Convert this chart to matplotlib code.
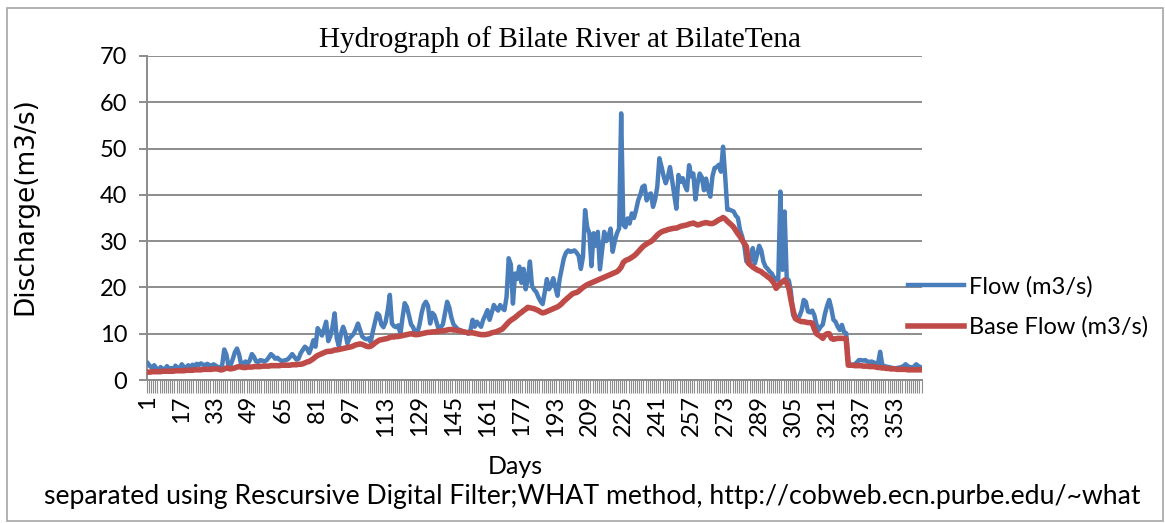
import matplotlib
matplotlib.use("Agg")
import matplotlib.pyplot as plt
from matplotlib.patches import Rectangle

# daily values (m3/s)
days = list(range(1, 366))

flow = [
    3.6, 3.0, 2.6, 3.2, 2.5, 2.2, 2.8, 2.4, 2.3, 3.0,
    2.4, 2.6, 2.2, 3.1, 2.5, 2.6, 3.4, 2.8, 2.6, 3.2,
    2.7, 3.3, 3.0, 3.5, 3.2, 3.6, 3.3, 3.2, 3.5, 3.2,
    3.0, 3.4, 3.1, 2.8, 2.6, 3.2, 6.6, 5.5, 3.0, 3.2,
    4.5, 6.0, 6.8, 5.5, 3.2, 3.6, 4.0, 3.5, 4.2, 5.6,
    5.0, 4.0, 3.9, 4.3, 4.2, 4.0, 4.3, 4.9, 5.6, 5.2,
    4.6, 4.8, 4.4, 4.1, 4.2, 4.3, 4.5, 5.0, 5.6, 5.0,
    4.4, 4.6, 5.8, 6.5, 7.2, 6.8, 5.8, 7.0, 8.6, 7.2,
    11.2, 10.5, 9.6, 11.0, 12.6, 8.4, 9.5, 11.5, 14.4, 9.0,
    7.3, 10.0, 11.5, 10.2, 7.9, 9.0, 9.5, 10.0, 11.0, 12.2,
    10.8, 9.4, 9.0, 8.8, 9.0, 8.2, 10.5, 12.5, 14.4, 14.0,
    12.0, 11.4, 12.5, 15.0, 18.4, 12.2, 11.6, 11.4, 11.8, 10.0,
    13.5, 16.6, 15.8, 14.0, 12.0, 11.4, 10.0, 10.2, 12.0, 14.5,
    16.2, 16.9, 16.0, 12.2, 14.5, 14.0, 12.5, 11.0, 11.4, 12.0,
    14.5, 16.9, 15.7, 13.5, 12.0, 11.5, 11.0, 10.8, 10.6, 10.4,
    10.2, 10.0, 10.8, 13.0, 11.5, 12.6, 12.0, 11.5, 13.0, 14.0,
    15.1, 13.0, 14.5, 16.2, 15.5, 15.0, 16.2, 15.5, 15.1, 18.0,
    26.3, 25.0, 16.5, 23.0, 21.8, 24.5, 21.0, 24.0, 19.6, 21.8,
    25.6, 20.3, 19.5, 19.0, 17.9, 17.0, 16.4, 19.0, 21.8, 19.6,
    20.5, 22.0, 20.0, 18.2, 21.8, 24.0, 26.3, 27.5, 28.0, 27.7,
    27.8, 28.0, 27.5, 26.8, 24.0, 26.6, 36.7, 33.0, 31.7, 24.6,
    31.7, 29.0, 32.0, 23.9, 28.0, 32.0, 30.0, 31.0, 32.7, 27.7,
    30.0, 31.7, 32.7, 57.6, 33.5, 33.0, 34.9, 33.8, 36.0, 35.0,
    36.7, 38.8, 40.0, 41.7, 42.0, 38.8, 40.0, 40.3, 37.4, 39.0,
    41.7, 47.9, 46.1, 44.0, 42.5, 43.9, 46.0, 43.2, 40.0, 37.0,
    44.3, 42.8, 43.6, 42.0, 41.0, 46.4, 44.0, 44.6, 39.0, 42.5,
    44.6, 43.8, 41.0, 43.5, 41.0, 39.6, 44.0, 45.8, 46.0, 46.5,
    45.0, 50.4, 44.0, 36.8, 36.8, 36.6, 36.4, 35.5, 35.0, 32.4,
    31.0, 29.0, 25.6, 26.0, 25.8, 28.5, 25.2, 27.0, 29.0, 28.0,
    25.6, 24.5, 24.0, 23.4, 23.0, 22.0, 22.0, 21.5, 40.7, 23.8,
    36.4, 22.0, 21.5, 19.0, 14.0, 13.5, 13.5, 13.8, 15.0, 17.3,
    16.9, 14.8, 14.6, 15.0, 14.0, 12.0, 10.8, 11.5, 12.0, 14.3,
    16.0, 17.3, 15.5, 13.0, 12.6, 11.5, 10.8, 11.9, 10.4, 10.1,
    3.6, 3.3, 3.2, 3.4, 3.8, 4.3, 4.3, 4.2, 4.3, 4.0,
    3.9, 4.0, 3.8, 3.6, 3.5, 6.1, 3.3, 3.0, 2.9, 2.8,
    2.7, 2.6, 2.5, 2.6, 2.7, 2.8, 3.0, 3.4, 3.0, 2.8,
    2.7, 2.9, 3.4, 3.0, 2.8,
]

base_flow = [
    1.7, 1.7, 1.8, 1.8, 1.8, 1.8, 1.8, 1.9, 1.9, 1.9,
    1.9, 1.9, 1.9, 2.0, 2.0, 2.0, 2.0, 2.0, 2.1, 2.1,
    2.1, 2.1, 2.2, 2.2, 2.2, 2.2, 2.3, 2.3, 2.3, 2.3,
    2.3, 2.4, 2.4, 2.4, 2.2, 2.2, 2.4, 2.6, 2.5, 2.4,
    2.5, 2.6, 2.8, 2.9, 2.8, 2.7, 2.7, 2.8, 2.8, 2.8,
    2.9, 2.9, 2.9, 2.9, 3.0, 3.0, 3.0, 3.0, 3.1, 3.1,
    3.1, 3.1, 3.1, 3.2, 3.2, 3.2, 3.2, 3.2, 3.3, 3.3,
    3.3, 3.4, 3.4, 3.5, 3.7, 3.9, 4.0, 4.3, 4.6, 5.0,
    5.3, 5.5, 5.7, 5.9, 6.1, 6.2, 6.2, 6.3, 6.5, 6.5,
    6.6, 6.7, 6.8, 6.9, 7.0, 7.1, 7.2, 7.4, 7.6, 7.7,
    7.8, 7.7, 7.5, 7.3, 7.2, 7.3, 7.6, 8.0, 8.3, 8.6,
    8.7, 8.8, 8.9, 9.0, 9.2, 9.3, 9.3, 9.4, 9.4, 9.5,
    9.6, 9.7, 9.8, 9.9, 10.0, 9.9, 9.8, 9.8, 9.9, 10.0,
    10.1, 10.2, 10.3, 10.3, 10.4, 10.4, 10.5, 10.5, 10.6, 10.6,
    10.7, 10.8, 10.9, 10.9, 10.8, 10.8, 10.7, 10.6, 10.5, 10.4,
    10.3, 10.2, 10.2, 10.2, 10.1, 10.0, 9.9, 9.8, 9.8, 9.8,
    9.9, 10.0, 10.2, 10.3, 10.4, 10.6, 10.8, 11.0, 11.5, 12.0,
    12.5, 12.9, 13.2, 13.5, 13.9, 14.3, 14.6, 15.0, 15.3, 15.7,
    15.6, 15.5, 15.4, 15.2, 15.0, 14.7, 14.5, 14.6, 14.8, 15.0,
    15.2, 15.4, 15.6, 15.8, 16.1, 16.5, 17.0, 17.4, 17.8, 18.2,
    18.6, 18.8, 18.9, 19.2, 19.6, 20.0, 20.3, 20.6, 20.8, 21.0,
    21.2, 21.4, 21.6, 21.8, 22.0, 22.2, 22.4, 22.6, 22.8, 23.0,
    23.2, 23.4, 23.8, 24.4, 25.4, 25.8, 26.0, 26.2, 26.5, 26.8,
    27.2, 27.7, 28.2, 28.7, 29.1, 29.4, 29.7, 29.9, 30.3, 30.8,
    31.3, 31.7, 32.0, 32.2, 32.3, 32.5, 32.6, 32.7, 32.8, 32.8,
    33.0, 33.2, 33.3, 33.4, 33.5, 33.7, 33.8, 33.9, 33.7, 33.5,
    33.6, 33.8, 33.9, 34.0, 33.9, 33.8, 33.8, 34.0, 34.3, 34.6,
    34.8, 35.1, 34.8, 34.3, 33.9, 33.5, 33.0, 32.3, 31.6, 31.0,
    30.2, 29.5, 28.8, 25.2, 24.8, 24.4, 24.1, 23.8, 23.6, 23.4,
    23.0, 22.7, 22.3, 22.0, 21.5, 20.9, 19.8, 20.3, 20.9, 21.2,
    21.6, 21.0, 19.8, 17.3, 15.0, 13.3, 13.0, 12.8, 12.6, 12.6,
    12.5, 12.4, 12.4, 12.3, 11.0, 10.0, 9.7, 9.4, 9.0, 9.7,
    10.0, 10.0, 9.0, 8.8, 8.9, 9.0, 9.0, 9.0, 9.0, 8.9,
    3.2, 3.2, 3.2, 3.1, 3.1, 3.1, 3.1, 3.0, 3.0, 3.0,
    2.9, 2.9, 2.9, 2.8, 2.7, 2.7, 2.6, 2.6, 2.5, 2.5,
    2.4, 2.4, 2.4, 2.3, 2.3, 2.3, 2.3, 2.3, 2.2, 2.2,
    2.2, 2.2, 2.2, 2.2, 2.2,
]

tick_days = [1, 17, 33, 49, 65, 81, 97, 113, 129, 145, 161, 177,
             193, 209, 225, 241, 257, 273, 289, 305, 321, 337, 353]
y_ticks = [0, 10, 20, 30, 40, 50, 60, 70]

fig = plt.figure(figsize=(11.65, 5.23), dpi=100)
fig.patches.append(Rectangle((0.006, 0.004), 0.992, 0.98, transform=fig.transFigure,
                             fill=False, edgecolor="#a6a6a6", linewidth=1.2))

ax = fig.add_axes([0.126, 0.2734, 0.665, 0.6196])
ax.plot(days, flow, color="#4a7ebb", linewidth=3.2, label="Flow (m3/s)", zorder=3)
ax.plot(days, base_flow, color="#be4b48", linewidth=4.0, label="Base Flow (m3/s)", zorder=4)

ax.set_xlim(0.5, 365.5)
ax.set_ylim(0, 70)
ax.set_yticks(y_ticks)
ax.grid(axis="y", color="#8c8c8c", linewidth=1.4)
ax.set_axisbelow(True)
for s in ["top", "right"]:
    ax.spines[s].set_visible(False)
for s in ["left", "bottom"]:
    ax.spines[s].set_color("#8c8c8c")
    ax.spines[s].set_linewidth(1.4)

# one tick per day, labels every 16th day
ax.set_xticks([d + 0.5 for d in range(0, 366)], minor=True)
ax.set_xticks(tick_days)
ax.set_xticklabels([str(d) for d in tick_days], rotation=90, family="Lato", fontsize=17)
ax.tick_params(axis="x", which="minor", length=9, width=0.8, color="#8c8c8c")
ax.tick_params(axis="x", which="major", length=0, pad=11)
ax.tick_params(axis="y", length=6, width=1.4, color="#8c8c8c", labelsize=17, pad=8)
for t in ax.get_yticklabels():
    t.set_family("Lato")

fig.text(0.022, 0.606, "Discharge(m3/s)", family="DejaVu Sans", fontsize=19,
         rotation=90, ha="center", va="center")
fig.text(0.481, 0.924, "Hydrograph of Bilate River at BilateTena", family="Liberation Serif",
         fontsize=21, ha="center", va="center")
fig.text(0.442, 0.108, "Days", family="Lato", fontsize=18, ha="center", va="center")
fig.text(0.038, 0.051, "separated using Rescursive Digital Filter;WHAT method, http://cobweb.ecn.purbe.edu/~what",
         family="Lato", fontsize=19.2, ha="left", va="center")

fig.legend(loc="center left", bbox_to_anchor=(0.761, 0.413), frameon=False,
           prop={"family": "Lato", "size": 17}, handlelength=2.4, handletextpad=0.2,
           labelspacing=0.8)

fig.savefig("out.png", dpi=100)
